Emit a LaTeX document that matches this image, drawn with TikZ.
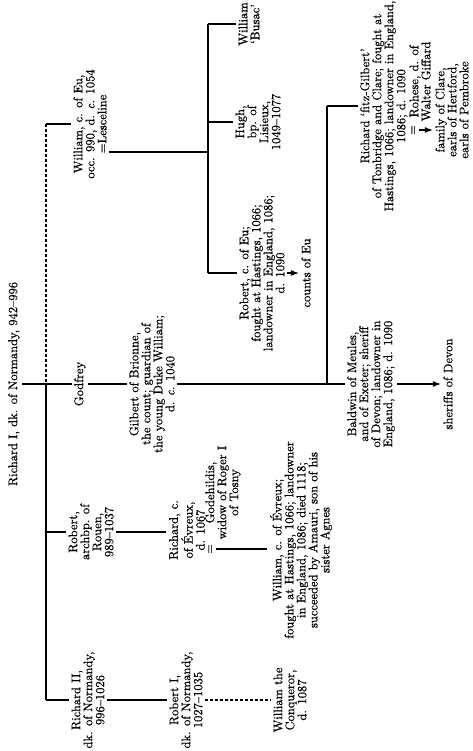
\documentclass[tikz,border=0pt]{standalone}
\usepackage{fontspec}
\setmainfont{lmroman10-regular.otf}[FakeBold=0.6,ItalicFont=lmroman10-italic.otf]
\usetikzlibrary{arrows.meta}
\begin{document}
\begin{tikzpicture}[x=1pt,y=-1pt,
  every node/.style={rotate=90,align=center,inner sep=2.5pt,
    font=\fontsize{12.5}{12}\selectfont},
  ln/.style={line width=1.1pt},
  dl/.style={line width=1.1pt,dash pattern=on 3pt off 2pt},
  arr/.style={line width=1.1pt,-{Latex[length=8pt,width=6pt]}}]
\useasboundingbox[fill=white] (0,0) rectangle (473,751);
% generation 1
\node (r1) at (14,384) {Richard I, dk. of Normandy, 942–996};
% sibling bar
\coordinate (bt) at (46,124);
\coordinate (bm) at (46,384);
\coordinate (bb) at (46,700);
\draw[dl] (bt) -- (bm);
\draw[ln] (bm) -- (bb);
% generation 2
\node (weu) at (90,124) {William, c. of Eu,\\occ. 990, d. \textit{c.} 1054\\=Lesceline};
\node (god) at (80,384) {Godfrey};
\node (ra) at (91,532) {Robert,\\archbp. of\\Rouen,\\989–1037};
\node (r2) at (88,700) {Richard II,\\dk. of Normandy,\\996–1026};
\draw[ln] (bt) -- (weu.north);
\draw[ln] (r1.south) -- (god.north);
\draw[ln] (ra.north -| bm) -- (ra.north);
\draw[ln] (bb) -- (r2.north);
% Eu branch
\coordinate (eut) at (208,24);
\coordinate (euj) at (208,152);
\coordinate (eub) at (208,273);
\draw[ln] ([yshift=-28pt]weu.south) -- (euj);
\draw[ln] (eut) -- (eub);
\node (wb) at (249,24) {William\\‘Busac’};
\node (hugh) at (258,122) {Hugh,\\bp. of\\Lisieux,\\1049–1077};
\node (robeu) at (262,273) {Robert, c. of Eu;\\fought at Hastings, 1066;\\landowner in England, 1086;\\d. 1090};
\node (ceu) at (306,273) {counts of Eu};
\draw[ln] (eut) -- (wb.north);
\draw[ln] (hugh.north -| eut) -- (hugh.north);
\draw[ln] (eub) -- (robeu.north);
\draw[arr] (robeu.south) -- (ceu.north);
% Godfrey branch
\node (gil) at (152,384) {Gilbert of Brionne,\\the count; guardian of\\the young Duke William;\\d. \textit{c.} 1040};
\draw[ln] (god.south) -- (gil.north);
\coordinate (gt) at (327,106);
\coordinate (gb) at (327,384);
\draw[ln] (gil.south) -- (gb);
\draw[ln] (gb) -- (gt);
\node (rfg) at (384,106) {Richard ‘fitz-Gilbert’\\of Tonbridge and Clare; fought at\\Hastings, 1066; landowner in England,\\1086; d. 1090};
\node (eqr) at (414,130) {=};
\node[anchor=west] (roh) at (420,124) {Rohese, d. of\\Walter Giffard};
\node (clare) at (452,110) {family of Clare,\\earls of Hertford,\\earls of Pembroke};
\draw[ln] (gt) -- (gt -| rfg.north);
\draw[arr] (eqr.south) -- (eqr.south -| clare.north);
\node (bald) at (371,384) {Baldwin of Meules,\\and of Exeter; sheriff\\of Devon; landowner in\\England, 1086; d. 1090};
\node (sod) at (448,384) {sheriffs of Devon};
\draw[ln] (gb) -- (bald.north);
\draw[arr] (bald.south) -- (sod.north);
% Robert archbishop branch
\node (re) at (187,530) {Richard, c.\\of Évreux,\\d. 1067};
\node (eqg) at (211,549) {=};
\node[anchor=west] (gh) at (223,542) {Godehildis,\\widow of Roger I\\of Tosny};
\node (we) at (301,540) {William, c. of Évreux;\\fought at Hastings, 1066; landowner\\in England, 1086; died 1118;\\succeeded by Amauri, son of his\\sister Agnes};
\draw[ln] (ra.south) -- (ra.south -| re.north);
\draw[ln] (eqg.south) -- (eqg.south -| we.north);
% Richard II branch
\node (ri) at (186,700) {Robert I,\\dk. of Normandy,\\1027–1035};
\node (wc) at (290,700) {William the\\Conqueror,\\d. 1087};
\draw[ln] (r2.south) -- (ri.north);
\draw[dl] (ri.south) -- (wc.north);
\end{tikzpicture}
\end{document}
